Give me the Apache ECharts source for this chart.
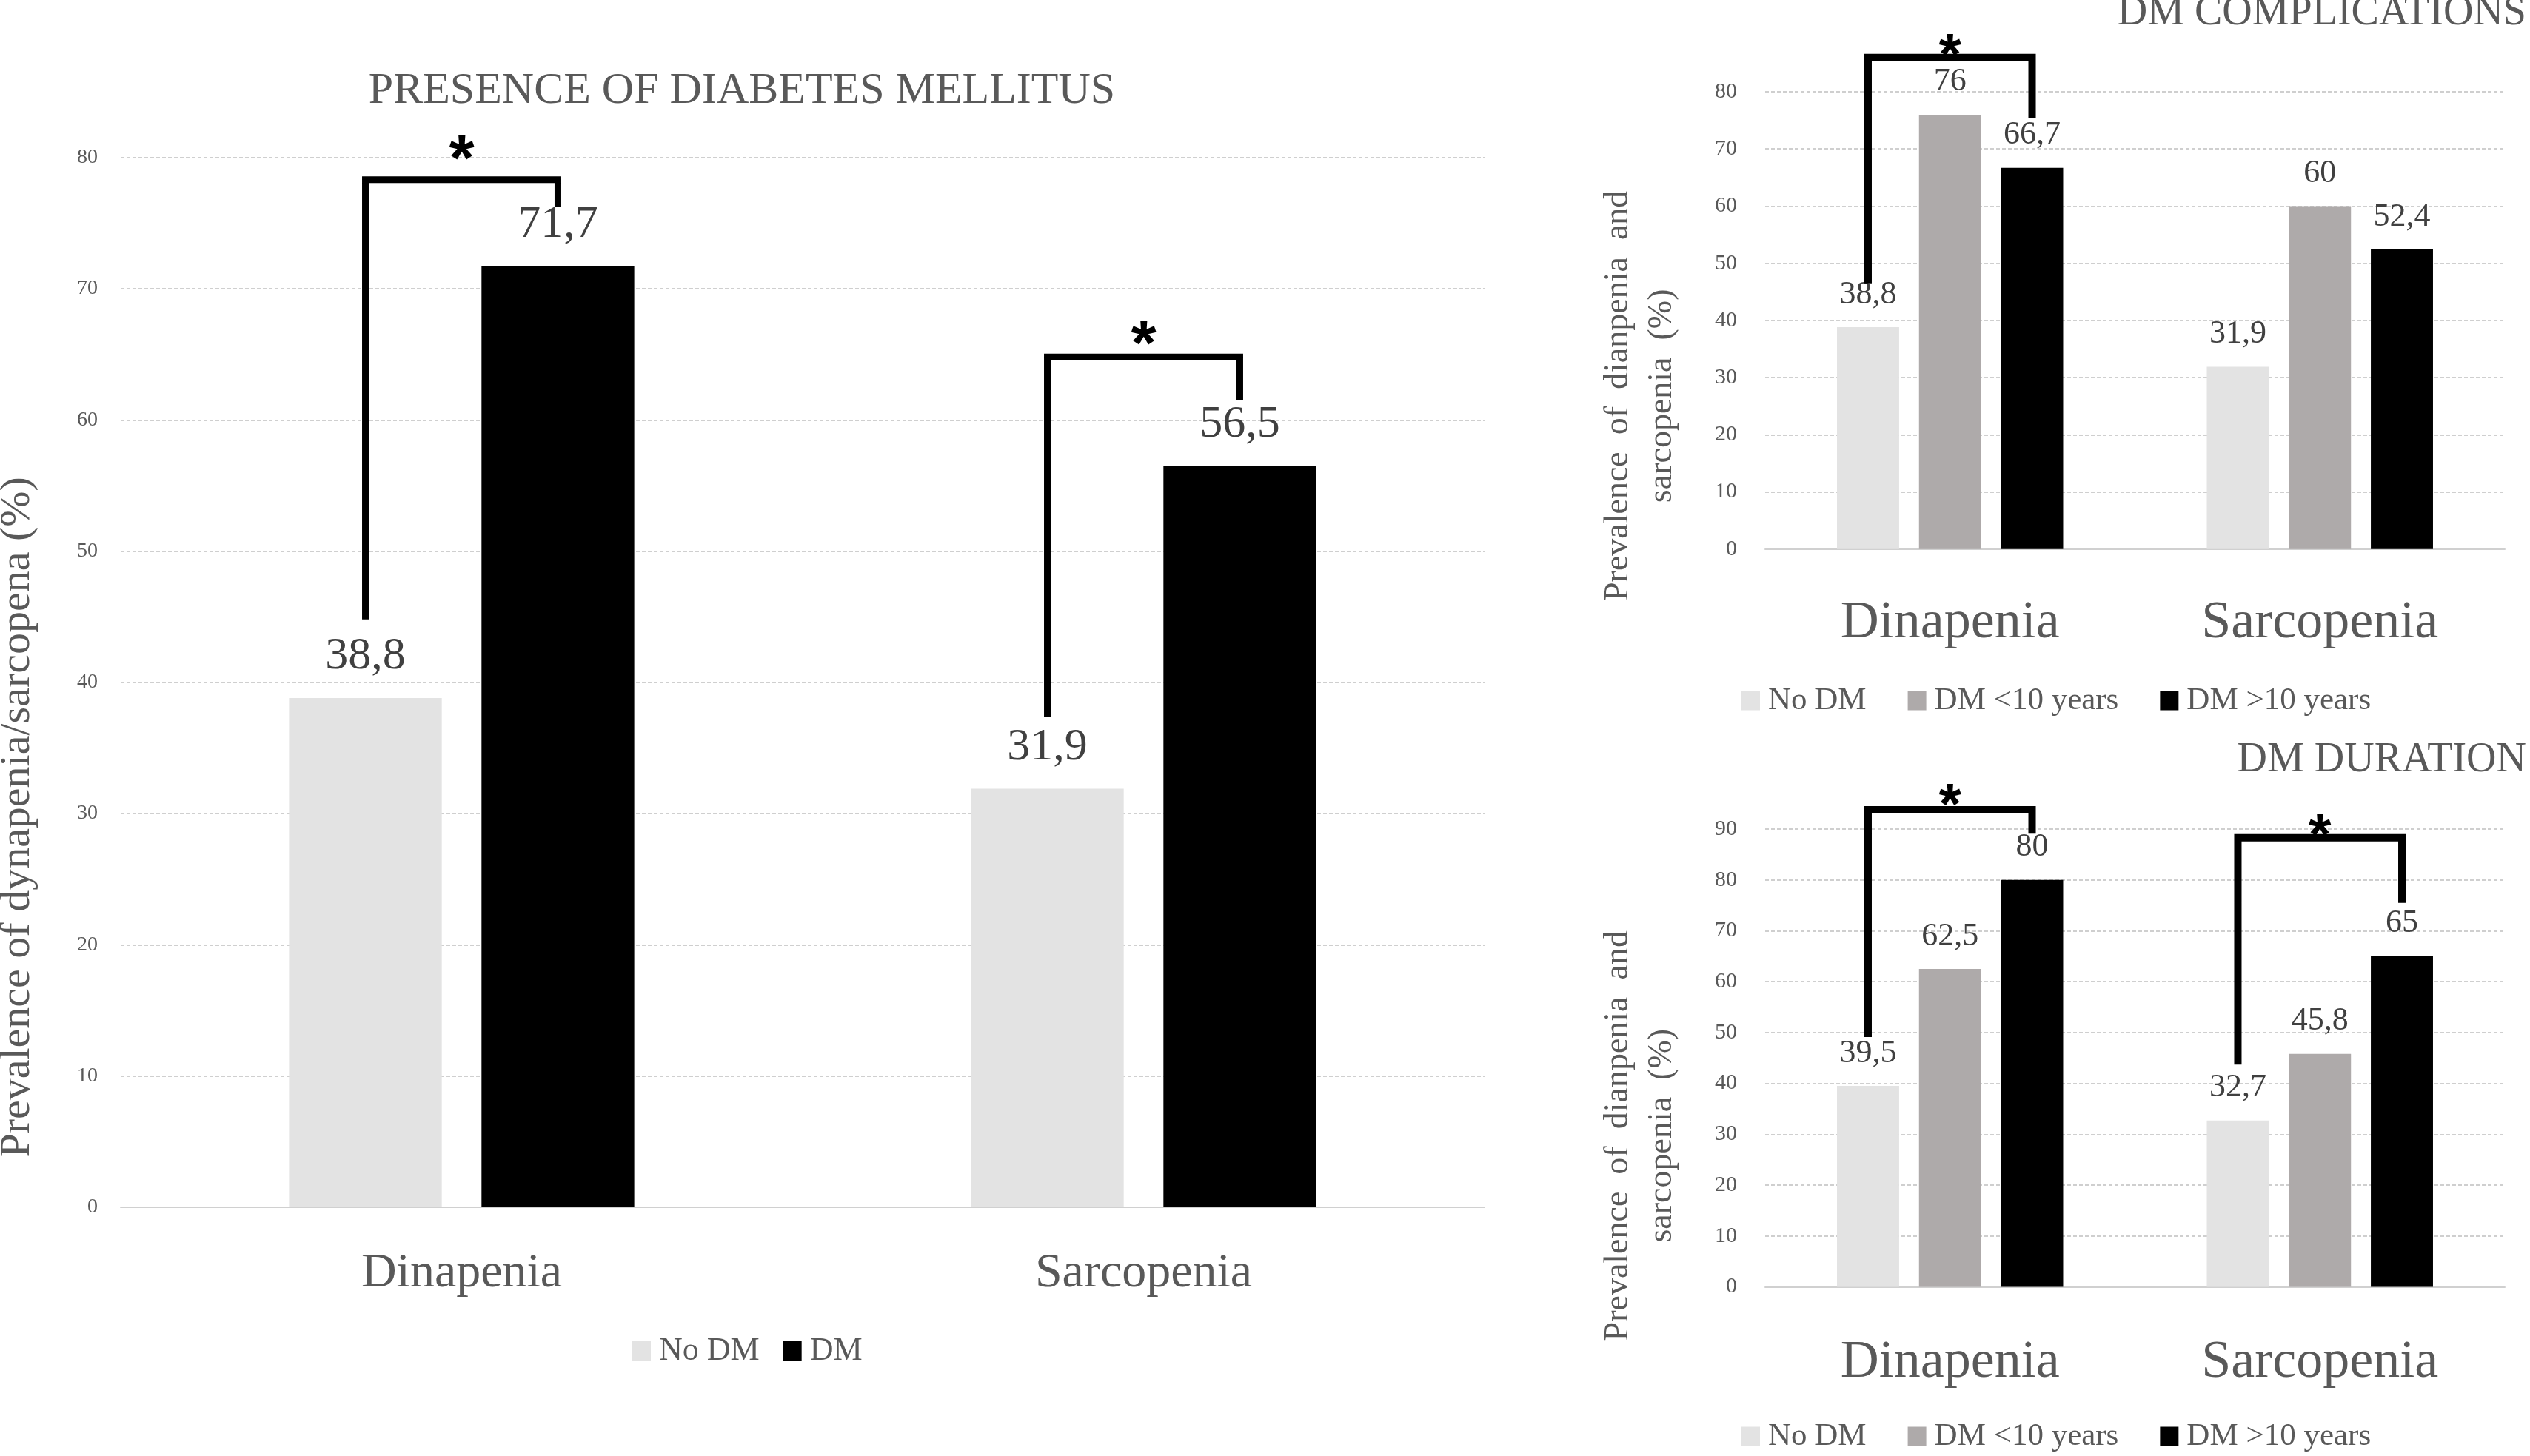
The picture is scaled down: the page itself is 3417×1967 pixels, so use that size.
<!DOCTYPE html>
<html><head><meta charset="utf-8">
<script src="https://cdn.jsdelivr.net/npm/echarts@6/dist/echarts.min.js"></script>
<style>html,body{margin:0;padding:0;background:#fff}#c{width:3417px;height:1967px}</style>
</head><body><div id="c"></div>
<script>
// ---------- data ----------
const categories = ['Dinapenia', 'Sarcopenia'];

const mainTitle = 'PRESENCE OF DIABETES MELLITUS';
const mainSeriesNames = ['No DM', 'DM'];
const mainNoDM = [38.8, 31.9];
const mainDM = [71.7, 56.5];

const compTitle = 'DM COMPLICATIONS';
const durTitle = 'DM DURATION';
const subSeriesNames = ['No DM', 'DM <10 years', 'DM >10 years'];
const compNoDM = [38.8, 31.9];
const compUnder10 = [76, 60];
const compOver10 = [66.7, 52.4];
const durNoDM = [39.5, 32.7];
const durUnder10 = [62.5, 45.8];
const durOver10 = [80, 65];

const mainYMax = 80, compYMax = 80, durYMax = 90, yStep = 10;
const mainYName = 'Prevalence of dynapenia/sarcopena (%)';
const subYName = 'Prevalence  of  dianpenia  and\nsarcopenia  (%)';

// significance brackets: [category, fromBar, toBar, fromBottom, top, toBottom, starY]
const mainBrackets = [[0, 0, 1, 44.8, 78.3, 76.2, 80.9], [1, 0, 1, 37.4, 64.8, 61.5, 66.8]];
const compBrackets = [[0, 0, 2, 46.5, 86.0, 75.4, 88.4]];
const durBrackets = [[0, 0, 2, 49.1, 93.8, 89.1, 97.0], [1, 0, 2, 43.7, 88.3, 75.5, 91.0]];

// ---------- style ----------
const FONT = '"Liberation Serif", "Times New Roman", serif';
const TXT = '#595959';
const C_NO = '#e3e3e3', C_LT = '#aeaaaa', C_GT = '#000000';
const MAIN_BW = 0.224, MAIN_GAP = 0.26;
const SUB_BW = 0.168, SUB_GAP = 0.32;

const fmt = p => String(p.value).replace('.', ',');

function bar(name, data, color, xi, bw, gap, fs, dist) {
  return {
    type: 'bar', name, data, xAxisIndex: xi, yAxisIndex: xi,
    barWidth: (bw * 100) + '%', barGap: (gap * 100) + '%',
    itemStyle: { color },
    label: { show: true, position: 'top', distance: dist, formatter: fmt,
      fontFamily: FONT, fontSize: fs, color: '#404040' }
  };
}

function bracketSeries(data, xi, nBars, bw, gapRatio, lw, starFont) {
  return {
    type: 'custom', name: 'sig' + xi, xAxisIndex: xi, yAxisIndex: xi, data,
    clip: false, silent: true, z: 10, encode: { x: 0, y: 4 },
    renderItem: function (params, api) {
      const cat = api.value(0);
      const band = api.size([1, 0], [cat, 0])[0];
      const center = api.coord([cat, 0])[0];
      const w = band * bw, g = w * gapRatio;
      const total = nBars * w + (nBars - 1) * g;
      const xOf = i => center - total / 2 + i * (w + g) + w / 2;
      const x1 = xOf(api.value(1)), x2 = xOf(api.value(2));
      const yB1 = api.coord([cat, api.value(3)])[1];
      const yT = api.coord([cat, api.value(4)])[1];
      const yB2 = api.coord([cat, api.value(5)])[1];
      const yS = api.coord([cat, api.value(6)])[1];
      return { type: 'group', children: [
        { type: 'polyline', shape: { points: [[x1, yB1], [x1, yT], [x2, yT], [x2, yB2]] },
          style: { stroke: '#000', lineWidth: lw, fill: null, lineJoin: 'miter', lineCap: 'butt' } },
        { type: 'text', x: (x1 + x2) / 2, y: yS + starFont * 0.25,
          style: { text: '*', font: 'bold ' + starFont + 'px "Liberation Sans", Arial, sans-serif',
            fill: '#000', align: 'center', verticalAlign: 'middle' } }
      ] };
    }
  };
}

function xAxis(gi, fs, margin) {
  return { type: 'category', gridIndex: gi, data: categories,
    axisTick: { show: false },
    axisLine: { show: true, lineStyle: { color: '#d0d0d0', width: 2 } },
    axisLabel: { fontFamily: FONT, fontSize: fs, color: TXT, margin } };
}
function yAxis(gi, max, fs, margin, name, nameFs, lineH, shift) {
  return { type: 'value', gridIndex: gi, min: 0, max, interval: yStep,
    axisLine: { show: false }, axisTick: { show: false },
    axisLabel: { fontFamily: FONT, fontSize: fs, color: TXT, margin },
    splitLine: { lineStyle: { color: '#cfcfcf', width: 2, type: [5, 3] } },
    name, nameLocation: 'middle', nameRotate: 90, nameGap: 110,
    nameTextStyle: { fontFamily: FONT, fontSize: nameFs, color: TXT, lineHeight: lineH,
      padding: [0, shift * 2, 0, 0] } };
}
function legend(names, left, top, gap, fs) {
  return { data: names, left, top, padding: 0, itemGap: gap, itemWidth: 25, itemHeight: 26,
    icon: 'rect', selectedMode: false,
    textStyle: { fontFamily: FONT, fontSize: fs, color: TXT, padding: [0, 0, 0, 6] } };
}

const option = {
  animation: false,
  backgroundColor: '#ffffff',
  title: [
    { text: mainTitle, left: 1002, textAlign: 'center', top: 93, padding: 0,
      textStyle: { fontFamily: FONT, fontSize: 60, fontWeight: 'normal', color: TXT } },
    { text: compTitle, right: 5, top: -10, padding: 0,
      textStyle: { fontFamily: FONT, fontSize: 56, fontWeight: 'normal', color: TXT } },
    { text: durTitle, right: 5, top: 999, padding: 0,
      textStyle: { fontFamily: FONT, fontSize: 56, fontWeight: 'normal', color: TXT } }
  ],
  grid: [
    { left: 163, right: 1412, top: 212.7, bottom: 336, containLabel: false, outerBoundsMode: 'none' },
    { left: 2384, right: 34, top: 124, bottom: 1225.3, containLabel: false, outerBoundsMode: 'none' },
    { left: 2384, right: 34, top: 1120, bottom: 228.5, containLabel: false, outerBoundsMode: 'none' }
  ],
  xAxis: [xAxis(0, 66, 57), xAxis(1, 72, 64), xAxis(2, 72, 67)],
  yAxis: [
    yAxis(0, mainYMax, 28, 31, mainYName, 58, 58, 182),
    yAxis(1, compYMax, 30, 38, subYName, 46, 59, 102),
    yAxis(2, durYMax, 30, 38, subYName, 46, 59, 105)
  ],
  legend: [
    legend(mainSeriesNames, 854, 1803, 32, 44),
    legend(subSeriesNames, 2352, 925, 56, 43),
    legend(subSeriesNames, 2352, 1919, 56, 43)
  ],
  series: [
    bar(mainSeriesNames[0], mainNoDM, C_NO, 0, MAIN_BW, MAIN_GAP, 62, 25),
    bar(mainSeriesNames[1], mainDM, C_GT, 0, MAIN_BW, MAIN_GAP, 62, 25),
    bar(subSeriesNames[0], compNoDM, C_NO, 1, SUB_BW, SUB_GAP, 44, 22),
    bar(subSeriesNames[1], compUnder10, C_LT, 1, SUB_BW, SUB_GAP, 44, 22),
    bar(subSeriesNames[2], compOver10, C_GT, 1, SUB_BW, SUB_GAP, 44, 22),
    bar(subSeriesNames[0], durNoDM, C_NO, 2, SUB_BW, SUB_GAP, 44, 22),
    bar(subSeriesNames[1], durUnder10, C_LT, 2, SUB_BW, SUB_GAP, 44, 22),
    bar(subSeriesNames[2], durOver10, C_GT, 2, SUB_BW, SUB_GAP, 44, 22),
    bracketSeries(mainBrackets, 0, 2, MAIN_BW, MAIN_GAP, 9, 88),
    bracketSeries(compBrackets, 1, 3, SUB_BW, SUB_GAP, 10, 78),
    bracketSeries(durBrackets, 2, 3, SUB_BW, SUB_GAP, 10, 78)
  ]
};
const chart = echarts.init(document.getElementById('c'), null, { renderer: 'canvas' });
chart.setOption(option);
</script>
</body></html>
